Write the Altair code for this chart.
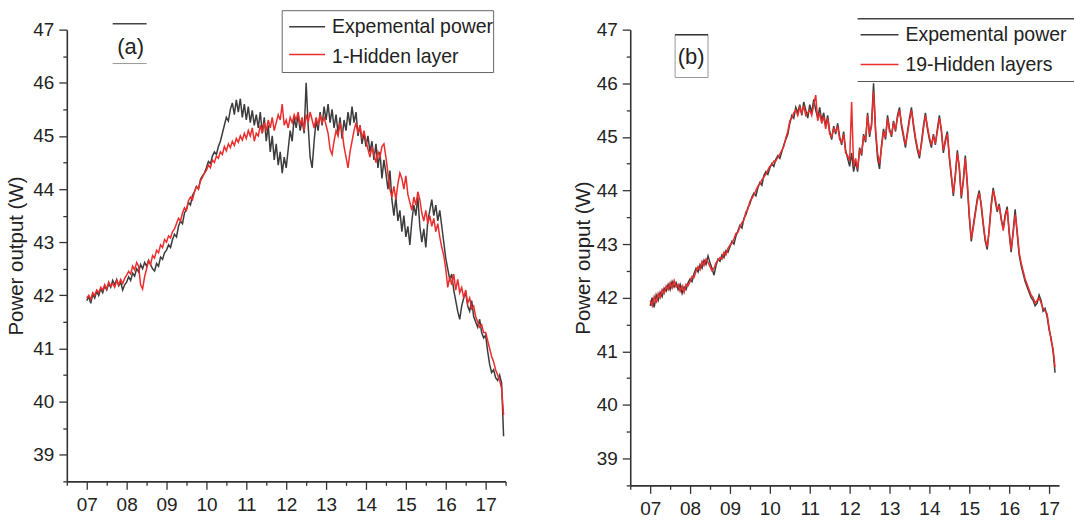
import altair as alt
import pandas as pd

# ---------------- data ----------------
hours_a = [round(7 + 0.05 * i, 2) for i in range(210)]   # 07:00 .. 17:27
hours_b = [round(7 + 0.05 * i, 2) for i in range(204)]   # 07:00 .. 17:09

exp_a = [
    41.90, 41.98, 41.85, 42.02, 41.95, 42.08, 42.00, 42.12, 42.05, 42.18, 42.10, 42.22, 42.15, 42.28, 42.20, 42.30, 42.18, 42.25, 42.10, 42.20,
    42.25, 42.35, 42.28, 42.42, 42.36, 42.50, 42.44, 42.58, 42.50, 42.62, 42.55, 42.66, 42.58, 42.50, 42.46, 42.60, 42.55, 42.72, 42.68, 42.80,
    42.85, 42.95, 42.90, 43.05, 43.15, 43.10, 43.30, 43.40, 43.35, 43.55, 43.62, 43.75, 43.70, 43.88, 43.95, 44.05, 44.00, 44.18, 44.25, 44.30,
    44.40, 44.52, 44.48, 44.62, 44.70, 44.65, 44.80, 44.90, 45.05, 45.20, 45.35, 45.28, 45.50, 45.62, 45.40, 45.68, 45.45, 45.70, 45.35, 45.60,
    45.30, 45.55, 45.25, 45.48, 45.20, 45.40, 45.15, 45.45, 45.05, 45.35, 44.90, 45.20, 44.70, 45.00, 44.55, 44.85, 44.45, 44.70, 44.30, 44.60,
    44.40, 44.75, 45.10, 44.90, 45.35, 45.15, 45.40, 45.10, 45.30, 45.05, 46.00, 45.20, 44.60, 44.40, 44.90, 45.30, 45.10, 45.45, 45.20, 45.55,
    45.30, 45.60, 45.25, 45.50, 45.15, 45.40, 45.05, 45.35, 44.95, 45.30, 45.10, 45.45, 45.20, 45.55, 45.25, 45.45, 45.00, 45.20, 44.85, 45.05,
    44.80, 45.00, 44.70, 44.90, 44.55, 44.85, 44.40, 44.70, 44.20, 44.55, 44.30, 44.00, 44.35, 43.80, 43.50, 43.85, 43.40, 43.60, 43.20, 43.50,
    43.10, 43.30, 42.95, 43.40, 43.70, 43.50, 43.85, 43.30, 43.00, 43.25, 42.90, 43.40, 43.60, 43.80, 43.50, 43.70, 43.40, 43.60, 43.30, 43.00,
    42.70, 42.50, 42.30, 42.40, 42.10, 41.90, 41.70, 41.55, 41.80, 41.95, 42.05, 41.80, 41.70, 41.90, 41.60, 41.50, 41.40, 41.55, 41.30, 41.20,
    41.25, 40.95, 40.70, 40.55, 40.60, 40.45, 40.40, 40.50, 40.35, 39.35,
]

hidden1_a = [
    41.95, 42.00, 41.92, 42.05, 42.00, 42.10, 42.05, 42.15, 42.10, 42.20, 42.12, 42.25, 42.18, 42.22, 42.15, 42.28, 42.20, 42.30, 42.22, 42.32,
    42.38, 42.45, 42.40, 42.55, 42.48, 42.62, 42.55, 42.20, 42.12, 42.35, 42.50, 42.65, 42.58, 42.75, 42.70, 42.85, 42.80, 42.95, 42.90, 43.05,
    43.00, 43.12, 43.08, 43.20, 43.25, 43.35, 43.45, 43.40, 43.55, 43.65, 43.60, 43.78, 43.85, 43.80, 43.95, 44.05, 44.00, 44.15, 44.22, 44.30,
    44.35, 44.45, 44.40, 44.55, 44.50, 44.62, 44.58, 44.70, 44.65, 44.80, 44.72, 44.85, 44.78, 44.90, 44.82, 44.95, 44.88, 45.00, 44.92, 45.05,
    44.95, 45.10, 45.00, 45.15, 44.90, 45.05, 45.00, 45.20, 45.05, 45.25, 45.10, 45.30, 45.15, 45.35, 45.10, 45.25, 45.40, 45.30, 45.60, 45.20,
    45.30, 45.15, 45.35, 45.25, 45.40, 45.30, 45.45, 45.20, 45.35, 45.10, 45.40, 45.25, 45.45, 45.30, 45.15, 45.35, 45.20, 45.40, 45.25, 45.35,
    45.20, 45.05, 44.75, 44.65, 44.90, 45.10, 45.00, 45.25, 45.10, 44.80, 44.60, 44.40, 44.70, 44.90, 45.10, 45.25, 45.05, 45.20, 44.95, 45.10,
    44.90, 44.75, 44.60, 44.80, 44.65, 44.50, 44.70, 44.60, 44.80, 44.85, 44.60, 44.30, 44.00, 43.85, 44.05, 43.80, 44.10, 44.30, 44.20, 44.00,
    44.25, 43.90, 43.75, 43.60, 43.85, 43.70, 43.95, 43.80, 43.55, 43.40, 43.60, 43.35, 43.50, 43.30, 43.45, 43.20, 43.35, 43.10, 42.90, 42.75,
    42.50, 42.15, 42.35, 42.20, 42.40, 42.10, 42.30, 42.05, 42.15, 41.95, 42.10, 41.85, 41.95, 41.75, 41.80, 41.60, 41.50, 41.40, 41.45, 41.30,
    41.30, 41.15, 41.00, 40.85, 40.75, 40.60, 40.50, 40.40, 40.25, 39.75,
]

exp_b = [
    41.85, 42.00, 41.82, 42.05, 41.95, 42.10, 42.02, 42.18, 42.12, 42.25, 42.15, 42.30, 42.20, 42.28, 42.15, 42.25, 42.08, 42.20, 42.15, 42.28,
    42.35, 42.30, 42.45, 42.55, 42.48, 42.62, 42.55, 42.70, 42.62, 42.78, 42.65, 42.55, 42.42, 42.60, 42.72, 42.68, 42.80, 42.75, 42.88, 42.85,
    42.95, 43.05, 43.00, 43.15, 43.25, 43.35, 43.30, 43.48, 43.55, 43.68, 43.75, 43.88, 43.95, 43.90, 44.05, 44.15, 44.10, 44.28, 44.35, 44.30,
    44.42, 44.50, 44.45, 44.58, 44.65, 44.60, 44.72, 44.85, 44.95, 45.05, 45.25, 45.40, 45.35, 45.55, 45.45, 45.60, 45.40, 45.65, 45.50, 45.35,
    45.60, 45.45, 45.70, 45.50, 45.35, 45.55, 45.30, 45.45, 45.20, 45.40, 45.10, 44.95, 45.20, 45.05, 45.25, 45.00, 44.85, 45.10, 44.75, 44.60,
    44.45, 44.70, 44.35, 44.55, 44.35, 44.80, 44.65, 45.05, 44.90, 45.45, 45.00, 45.25, 46.00, 45.10, 44.60, 44.40, 44.85, 45.15, 44.95, 45.40,
    45.15, 45.00, 45.30, 45.10, 45.40, 45.55, 45.20, 45.00, 44.80, 45.10, 45.35, 45.55, 45.20, 44.95, 44.75, 44.60, 44.90, 45.20, 45.45, 45.15,
    44.95, 44.80, 45.05, 44.85, 45.15, 45.40, 45.10, 44.70, 44.95, 45.10, 44.60, 44.25, 43.90, 44.30, 44.75, 44.40, 43.85, 44.20, 44.65, 44.10,
    43.50, 43.05, 43.35, 43.60, 43.85, 44.00, 43.70, 43.35, 43.05, 42.90, 43.30, 43.75, 44.05, 43.80, 43.60, 43.75, 43.45, 43.30, 43.55, 43.70,
    43.20, 42.85, 43.25, 43.65, 43.20, 42.80, 42.60, 42.45, 42.30, 42.20, 42.10, 42.00, 41.95, 41.85, 41.90, 42.05, 41.95, 41.75, 41.80, 41.65,
    41.40, 41.25, 41.00, 40.60,
]

hidden19_b = [
    41.95, 41.85, 42.02, 41.90, 42.08, 42.00, 42.15, 42.08, 42.22, 42.15, 42.28, 42.18, 42.32, 42.20, 42.25, 42.12, 42.22, 42.10, 42.25, 42.22,
    42.30, 42.40, 42.38, 42.50, 42.58, 42.52, 42.68, 42.60, 42.72, 42.66, 42.58, 42.50, 42.55, 42.65, 42.70, 42.75, 42.72, 42.85, 42.80, 42.92,
    42.98, 43.02, 43.10, 43.20, 43.22, 43.32, 43.40, 43.45, 43.60, 43.65, 43.80, 43.85, 43.92, 44.00, 44.08, 44.12, 44.20, 44.25, 44.30, 44.38,
    44.45, 44.48, 44.55, 44.55, 44.62, 44.68, 44.75, 44.82, 44.98, 45.10, 45.30, 45.35, 45.45, 45.50, 45.40, 45.55, 45.45, 45.58, 45.40, 45.45,
    45.50, 45.40, 45.60, 45.78, 45.30, 45.45, 45.25, 45.38, 45.15, 45.35, 45.05, 45.00, 45.15, 45.10, 45.20, 44.95, 44.90, 45.05, 44.70, 44.65,
    44.55, 45.65, 44.45, 44.60, 44.40, 44.75, 44.70, 45.00, 44.95, 45.40, 45.05, 45.20, 45.85, 45.15, 44.70, 44.50, 44.80, 45.10, 45.00, 45.35,
    45.10, 45.05, 45.25, 45.15, 45.35, 45.50, 45.25, 45.05, 44.85, 45.05, 45.30, 45.50, 45.25, 45.00, 44.80, 44.65, 44.85, 45.15, 45.40, 45.20,
    45.00, 44.85, 45.00, 44.90, 45.10, 45.35, 45.15, 44.75, 44.90, 45.05, 44.65, 44.30, 43.95, 44.25, 44.70, 44.45, 43.90, 44.15, 44.60, 44.15,
    43.55, 43.10, 43.30, 43.55, 43.80, 43.95, 43.75, 43.40, 43.10, 42.95, 43.25, 43.70, 44.00, 43.85, 43.65, 43.70, 43.50, 43.25, 43.50, 43.65,
    43.25, 42.90, 43.20, 43.55, 43.25, 42.85, 42.65, 42.50, 42.35, 42.25, 42.15, 42.05, 42.00, 41.90, 41.95, 42.00, 41.90, 41.80, 41.75, 41.70,
    41.45, 41.20, 41.05, 40.70,
]

x_ticks_a = [6.5 + 0.5 * i for i in range(23)]
x_ticks_b = [6.5 + 0.5 * i for i in range(22)]
y_ticks = [38.5 + 0.5 * i for i in range(18)]

BLACK = "#3c3c3c"
RED = "#ec2d2d"
FONT = "Liberation Sans"
ONE = pd.DataFrame({"k": [0]})


def line_layer(hours, values, color, xdom, xticks, ytitle, title_pad):
    df = pd.DataFrame({"hour": hours, "power": values})
    return alt.Chart(df).mark_line(color=color, strokeWidth=1.5).encode(
        x=alt.X("hour:Q",
                scale=alt.Scale(domain=xdom, nice=False, zero=False),
                axis=alt.Axis(values=xticks, title=None,
                              labelExpr="datum.value % 1 === 0 ? (datum.value < 10 ? '0' : '') + datum.value : ''",
                              tickSize={"condition": {"test": "datum.value % 1 !== 0", "value": 4}, "value": 8},
                              labelFlush=False, labelOverlap=False, labelPadding=6)),
        y=alt.Y("power:Q",
                scale=alt.Scale(domain=[38.5, 47], nice=False, zero=False),
                axis=alt.Axis(values=y_ticks, title=ytitle, titlePadding=title_pad,
                              labelExpr="datum.value % 1 === 0 ? datum.value : ''",
                              tickSize={"condition": {"test": "datum.value % 1 !== 0", "value": 4}, "value": 8},
                              labelFlush=False, labelOverlap=False, labelPadding=5)),
    )


def hrule(x1, x2, y, color, w):
    return alt.Chart(ONE).mark_rule(color=color, strokeWidth=w).encode(
        x=alt.value(x1), x2=alt.value(x2), y=alt.value(y))


def label(x, y, txt, size=19.5, align="left"):
    return alt.Chart(ONE).mark_text(align=align, baseline="middle", font=FONT,
                                    fontSize=size, color="#222").encode(
        x=alt.value(x), y=alt.value(y), text=alt.value(txt))


def box(x1, x2, y1, y2, stroke, w):
    return alt.Chart(ONE).mark_rect(fill="white", stroke=stroke, strokeWidth=w).encode(
        x=alt.value(x1), x2=alt.value(x2), y=alt.value(y1), y2=alt.value(y2))


# ---------------- panel (a) ----------------
xdom_a = [6.5, 17.5]
panel_a = alt.layer(
    line_layer(hours_a, exp_a, BLACK, xdom_a, x_ticks_a, "Power output (W)", 6),
    line_layer(hours_a, hidden1_a, RED, xdom_a, x_ticks_a, "Power output (W)", 6),
    box(216, 428, -19, 43, "#666", 1),
    hrule(223, 259, -3, BLACK, 1.5),
    hrule(223, 259, 25, RED, 1.5),
    label(266, -3, "Expemental power"),
    label(266, 27, "1-Hidden layer"),
    hrule(46, 80, -6, "#444", 1.5),
    hrule(46, 80, 34, "#999", 1),
    label(64, 17, "(a)", size=22, align="center"),
).properties(width=440, height=453)

# ---------------- panel (b) ----------------
xdom_b = [6.5, 17.25]
panel_b = alt.layer(
    line_layer(hours_b, exp_b, BLACK, xdom_b, x_ticks_b, "Power ouput (W)", 3),
    line_layer(hours_b, hidden19_b, RED, xdom_b, x_ticks_b, "Power ouput (W)", 3),
    hrule(228, 445, -11, "#444", 1.5),
    hrule(228, 445, 52, "#555", 1.2),
    hrule(231, 269, 5, BLACK, 1.5),
    hrule(231, 269, 35, RED, 1.5),
    label(276, 5, "Expemental power"),
    label(276, 35, "19-Hidden layers"),
    box(45, 78, 5, 48, "#999", 1),
    hrule(45, 78, 5, "#333", 1.5),
    label(61, 27, "(b)", size=22, align="center"),
).properties(width=430, height=457)

chart = alt.hconcat(panel_a, panel_b, spacing=66).properties(
    padding={"left": 6, "top": 9, "right": 0, "bottom": 0},
    background="white",
).configure_view(stroke=None).configure_axis(
    grid=False,
    domainColor="#333", domainWidth=1.6,
    tickColor="#333", tickWidth=1.3,
    labelFont=FONT, labelFontSize=19, labelColor="#222",
    titleFont=FONT, titleFontSize=20.5, titleFontWeight="normal", titleColor="#222",
)

chart.save("out.html", embed_options={"renderer": "svg", "actions": False})
